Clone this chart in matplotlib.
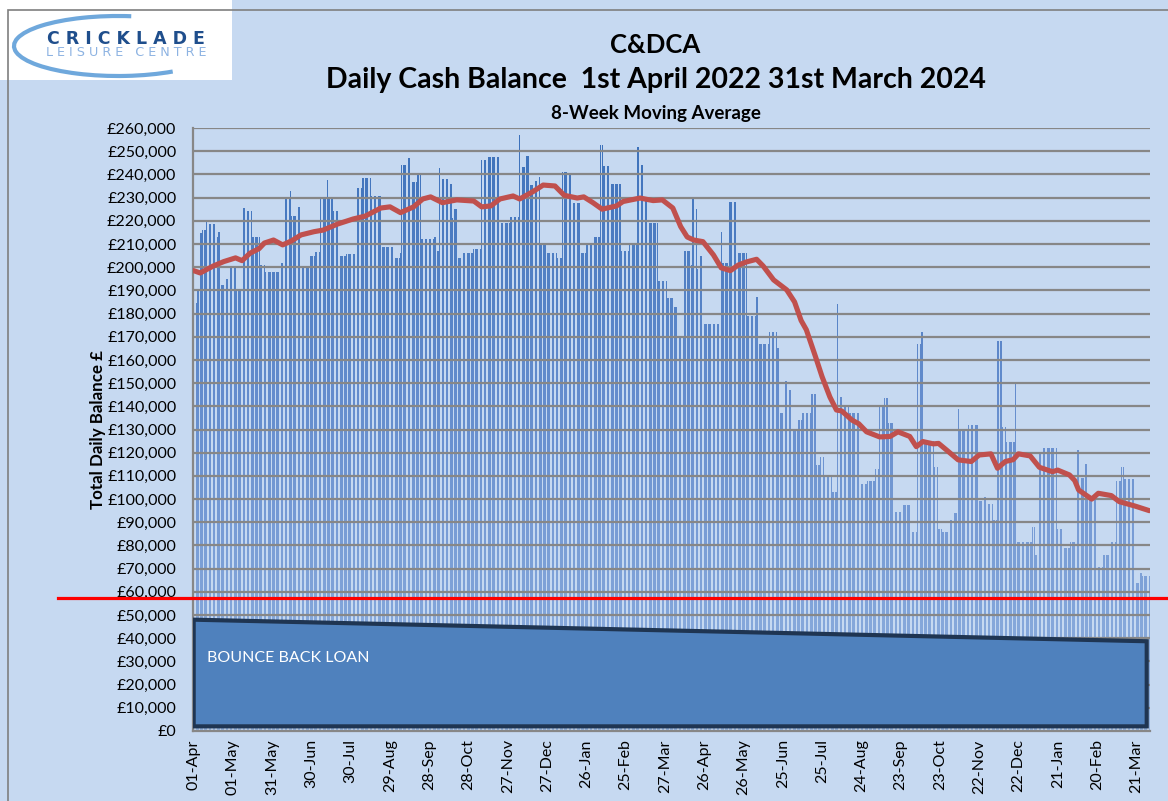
import numpy as np
import pandas as pd
import matplotlib
matplotlib.use('Agg')
import matplotlib.pyplot as plt
import matplotlib.transforms as mtransforms
from matplotlib.patches import Polygon, Arc, Rectangle
from matplotlib.colors import LinearSegmentedColormap
from matplotlib.ticker import FuncFormatter, MultipleLocator

plt.rcParams['font.family'] = ['Lato', 'DejaVu Sans']

# daily balance, read off as runs of days at (roughly) the same level
start_date = '2022-04-01'
run_days = [
    3, 2, 2, 3, 2, 5, 2, 2,
    3, 3, 5, 1, 5,
    3, 4, 6, 4, 11, 3,
    5, 1, 5, 3, 6, 4, 4,
    5, 1, 4, 5, 5, 8,
    4, 7, 8, 9, 5, 1,
    4, 3, 5, 3,
    10, 2, 2,
    2, 5, 3, 1, 3,
    4, 8, 6,
    4, 10, 1,
    7, 7, 1, 4, 3, 3, 4, 1,
    5, 8, 4,
    4, 4, 6,
    4, 5, 6,
    2, 6, 8,
    6, 6,
    2, 4, 3, 7,
    7, 5, 3, 5,
    5, 1, 2, 2, 2, 3,
    12, 2, 5, 7, 7,
    7, 2, 8, 6, 2,
    4, 2, 4, 4, 3, 7, 4,
    3, 3, 6, 4,
    2, 2, 5, 8,
    6, 6, 3,
    4, 3, 5,
    6, 7, 4,
    3, 2, 8, 3,
    3, 6, 3, 3,
    1, 7, 8,
    4, 3, 4, 3,
    4, 3, 7, 1,
    12, 2, 3,
    2, 12,
    4, 6, 5,
    3, 3, 2, 8,
    4, 6, 4,
    4, 2, 9,
    3, 2, 6,
]
balance = [
    184500, 190000, 214700, 216000, 220000, 218500, 213000, 215000,
    192300, 195000, 199600, 200000, 190000,
    225500, 224000, 213000, 201000, 198000, 202000,
    229400, 233000, 222000, 226000, 200000, 205000, 206500,
    230000, 237600, 230000, 224000, 205000, 205500,
    234000, 238500, 230700, 208700, 204000, 206000,
    244000, 247000, 236700, 240000,
    212000, 213000, 207000,
    242800, 238000, 236000, 221000, 225000,
    204000, 206000, 208000,
    246000, 247500, 241000,
    219000, 221700, 257000, 243000, 248000, 235500, 237000, 239000,
    210400, 206000, 204000,
    241000, 240000, 227700,
    206000, 210000, 213000,
    252700, 243500, 236000,
    207000, 210500,
    252000, 244000, 229000, 219000,
    194000, 186700, 183000, 170000,
    207000, 201000, 230000, 225000, 199000, 205000,
    175500, 215000, 202000, 228000, 206000,
    179000, 187000, 167000, 172000, 165000,
    137000, 151000, 147000, 130000, 134000, 137000, 145500,
    114700, 118000, 110000, 103000,
    184000, 144000, 140500, 137000,
    106500, 108000, 113000,
    139500, 143500, 133000,
    94500, 97500, 86000,
    167000, 172000, 125000, 114000,
    87000, 85800, 91000, 94000,
    139000, 130000, 132000,
    99000, 101000, 98000, 91000,
    168000, 131000, 124500, 150000,
    81500, 88000, 76000,
    120000, 122000,
    87000, 79000, 81500,
    121000, 109000, 115000, 100000,
    70700, 76000, 81500,
    108000, 114000, 108500,
    64000, 68000, 67000,
]

# 8-week moving average (day index, value)
ma_day = [0, 5, 15, 23, 32, 37, 43, 50, 54, 61, 68, 75, 82, 92, 99, 110, 122,
          131, 143, 150, 158, 168, 175, 181, 190, 201, 214, 220, 227, 234, 244,
          249, 259, 267, 276, 283, 293, 298, 305, 312, 323, 328, 341, 351, 358,
          366, 372, 377, 382, 389, 397, 403, 410, 416, 422, 430, 435, 443, 453,
          459, 464, 468, 475, 480, 486, 491, 495, 503, 508, 514, 524, 532, 538,
          547, 552, 557, 565, 569, 575, 584, 594, 600, 609, 614, 620, 626, 630,
          639, 646, 656, 660, 669, 673, 676, 686, 691, 701, 707, 719, 730]
ma_value = [198500, 197500, 200500, 202400, 204000, 202800, 206000, 208000,
            210400, 211700, 209600, 211400, 213900, 215300, 216000, 218600,
            220800, 222000, 225500, 226000, 223500, 226000, 229400, 230300,
            227800, 229000, 228500, 226000, 226400, 229400, 230700, 229400,
            232500, 235400, 235000, 231000, 229800, 230300, 227800, 225000,
            226400, 228300, 229800, 228700, 229000, 225500, 217500, 213000,
            211700, 211000, 205300, 199700, 198500, 200900, 202200, 203400,
            200500, 194500, 190200, 185000, 177000, 173000, 161400, 152800,
            144000, 138400, 138000, 134000, 132500, 129000, 126800, 127000,
            129000, 127000, 122600, 124800, 123800, 124000, 121200, 116900,
            116200, 119000, 119500, 113300, 116200, 117000, 119500, 118600,
            113700, 111800, 112500, 110400, 108000, 103900, 100000, 102500,
            101500, 98900, 97000, 95000]

threshold = 57500
loan_start = 48000
loan_end = 38700
loan_floor = 2000

daily = np.repeat(balance, run_days)
dates = pd.date_range(start_date, periods=len(daily), freq='D')
days = np.arange(len(daily))

BG = '#C6D9F1'
GRID = '#878787'

fig = plt.figure(figsize=(11.68, 8.01), dpi=100, facecolor=BG)
ax = fig.add_axes([193 / 1168, 70 / 801, 957 / 1168, 603 / 801])
ax.set_facecolor(BG)

# bars drawn in 10k bands so each band gets its own shade (vertical gradient)
cmap = LinearSegmentedColormap.from_list('bars', ['#93B3E0', '#6990CF', '#3B70BA'])
band = 10000
for k in range(26):
    lo = k * band
    h = np.clip(daily - lo, 0, band)
    ax.bar(days, h, bottom=lo, width=0.62, color=cmap((k + 0.5) / 26),
           linewidth=0, zorder=1)

ax.plot(ma_day, ma_value, color='#C0504D', lw=3.7, zorder=4, solid_capstyle='round')

ax.set_xlim(-0.5, len(daily) - 0.5)
ax.set_ylim(0, 260000)
ax.yaxis.set_major_locator(MultipleLocator(10000))
ax.yaxis.set_major_formatter(FuncFormatter(lambda v, p: f'£{v:,.0f}'))
ax.set_axisbelow(False)
ax.yaxis.grid(True, color=GRID, lw=1.6, zorder=2.5)

ax.set_xticks(days[::30])
ax.set_xticklabels(dates[::30].strftime('%d-%b'), rotation=90)
ax.tick_params(axis='both', length=0, labelsize=11.5, colors='black')
ax.tick_params(axis='x', pad=6)
ax.tick_params(axis='y', pad=12)

for side in ['top', 'right']:
    ax.spines[side].set_visible(False)
for side in ['left', 'bottom']:
    ax.spines[side].set_color(GRID)
    ax.spines[side].set_linewidth(1.6)

ax.set_ylabel('Total Daily Balance £', fontsize=12.2, fontweight='bold', labelpad=1)

# bounce back loan block
x_end = len(daily) - 3
loan = Polygon([(0, loan_floor), (0, loan_start), (x_end, loan_end), (x_end, loan_floor)],
               closed=True, facecolor='#4F81BD', edgecolor='#1F3552', lw=3, zorder=5)
ax.add_patch(loan)
ax.text(10, 31500, 'BOUNCE BACK LOAN', color='white', fontsize=11.5, va='center', zorder=6)

# threshold line, running past the plot edges
trans = mtransforms.blended_transform_factory(ax.transAxes, ax.transData)
ax.plot([(58 - 193) / 957, (1168 - 193) / 957], [threshold, threshold], transform=trans,
        color='#FF0000', lw=2.3, clip_on=False, zorder=7)

# titles
fig.text(0.561, 1 - 45 / 801, 'C&DCA', ha='center', va='center', fontsize=18.5, fontweight='bold')
fig.text(0.562, 1 - 80 / 801, 'Daily Cash Balance  1st April 2022 31st March 2024',
         ha='center', va='center', fontsize=20.5, fontweight='bold')
fig.text(0.562, 1 - 113 / 801, '8-Week Moving Average', ha='center', va='center',
         fontsize=13.5, fontweight='bold')

# chart-area border
fig.patches.append(Rectangle((8 / 1168, -0.01), 1.1, 1 - 10 / 801 + 0.01,
                             transform=fig.transFigure, fill=False, edgecolor='#7F7F7F', lw=1.2))

# logo (y measured upward from the bottom of the white box)
lax = fig.add_axes([0, 1 - 80 / 801, 232 / 1168, 80 / 801])
lax.set_xlim(0, 232)
lax.set_ylim(0, 80)
lax.axis('off')
lax.add_patch(Rectangle((0, 0), 232, 80, facecolor='white', edgecolor='none'))
lax.add_patch(Arc((118, 34), 208, 60, theta1=66, theta2=335, color='#6FA8DC', lw=3))
lax.text(126, 41, 'C R I C K L A D E', color='#1F4E8C', fontsize=12.5, fontweight='bold',
         ha='center', va='center', family='DejaVu Sans')
lax.text(126, 27, 'L E I S U R E   C E N T R E', color='#8DB3E2', fontsize=9.2,
         ha='center', va='center', family='DejaVu Sans')

fig.savefig('out.png', dpi=100, facecolor=BG)
